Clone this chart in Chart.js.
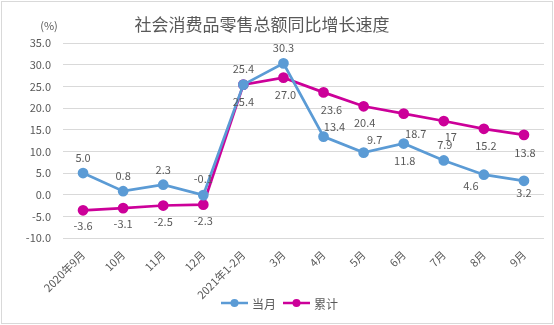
<!DOCTYPE html>
<html>
<head>
<meta charset="utf-8">
<script src="https://cdn.jsdelivr.net/npm/chart.js@4/dist/chart.umd.min.js"></script>
<style>
  html, body { margin: 0; padding: 0; background: #fff; }
  #wrap { width: 554px; height: 325px; position: relative; }
</style>
</head>
<body>
<div id="wrap"><canvas id="salesChart" width="554" height="325"></canvas></div>
<script>
var months = ["2020年9月", "10月", "11月", "12月", "2021年1-2月", "3月", "4月", "5月", "6月", "7月", "8月", "9月"];
var monthly = [5.0, 0.8, 2.3, -0.1, 25.4, 30.3, 13.4, 9.7, 11.8, 7.9, 4.6, 3.2];
var cumulative = [-3.6, -3.1, -2.5, -2.3, 25.4, 27.0, 23.6, 20.4, 18.7, 17, 15.2, 13.8];
var monthlyText = ["5.0", "0.8", "2.3", "-0.1", "25.4", "30.3", "13.4", "9.7", "11.8", "7.9", "4.6", "3.2"];
var cumulativeText = ["-3.6", "-3.1", "-2.5", "-2.3", "25.4", "27.0", "23.6", "20.4", "18.7", "17", "15.2", "13.8"];

// label offsets from the point, in px
var monthlyOffsets = [[0, -15], [0, -15], [0, -15], [0, -16], [0, -16], [0, -16], [11, -10], [11, -13], [1, 17], [1, -16], [-13, 11], [0, 12]];
var cumulativeOffsets = [[0, 16], [0, 16], [0, 16], [0, 16], [0, 17], [2, 17], [8, 17], [1, 17], [12, 20], [7, 16], [2, 17], [1, 18]];

var blue = '#5B9BD5';
var magenta = '#CC0099';
var grey = '#595959';
var fontFamily = '"Noto Sans CJK SC", "Noto Sans", sans-serif';

var extras = {
    id: 'extras',
    afterDraw: function (chart) {
        var ctx = chart.ctx;
        ctx.save();
        // frame
        ctx.strokeStyle = '#d9d9d9';
        ctx.lineWidth = 1;
        ctx.strokeRect(1.5, 1.5, 551, 322);

        // title
        ctx.fillStyle = grey;
        ctx.textAlign = 'center';
        ctx.textBaseline = 'middle';
        ctx.font = '17px ' + fontFamily;
        ctx.fillText('社会消费品零售总额同比增长速度', 262, 25);
        ctx.font = '11px ' + fontFamily;
        ctx.fillText('(%)', 49, 26);

        // data labels
        ctx.font = '11px ' + fontFamily;
        var texts = [monthlyText, cumulativeText];
        var offs = [monthlyOffsets, cumulativeOffsets];
        chart.data.datasets.forEach(function (ds, i) {
            chart.getDatasetMeta(i).data.forEach(function (pt, j) {
                ctx.fillText(texts[i][j], pt.x + offs[i][j][0], pt.y + offs[i][j][1]);
            });
        });

        // legend
        var items = [[blue, '当月', 221], [magenta, '累计', 283]];
        ctx.textAlign = 'left';
        ctx.font = '12px ' + fontFamily;
        items.forEach(function (it) {
            var x = it[2], y = 303;
            ctx.strokeStyle = it[0];
            ctx.lineWidth = 2.5;
            ctx.beginPath();
            ctx.moveTo(x, y);
            ctx.lineTo(x + 27, y);
            ctx.stroke();
            ctx.fillStyle = it[0];
            ctx.beginPath();
            ctx.arc(x + 13.5, y, 4, 0, Math.PI * 2);
            ctx.fill();
            ctx.fillStyle = grey;
            ctx.fillText(it[1], x + 31, y + 1);
        });
        ctx.restore();
    }
};

var ctx1 = document.getElementById('salesChart').getContext('2d');
new Chart(ctx1, {
    type: 'line',
    data: {
        labels: months,
        datasets: [{
            label: '当月',
            data: monthly,
            borderColor: blue,
            backgroundColor: blue,
            borderWidth: 2.75,
            pointRadius: 4,
            pointHoverRadius: 4,
            tension: 0
        }, {
            label: '累计',
            data: cumulative,
            borderColor: magenta,
            backgroundColor: magenta,
            borderWidth: 2.75,
            pointRadius: 4,
            pointHoverRadius: 4,
            tension: 0
        }]
    },
    options: {
        responsive: false,
        animation: false,
        layout: { padding: { left: 0, right: 10, top: 43, bottom: 0 } },
        plugins: {
            legend: { display: false },
            title: { display: false },
            tooltip: { enabled: false }
        },
        scales: {
            x: {
                offset: true,
                grid: { display: false },
                border: { display: false },
                ticks: {
                    color: grey,
                    font: { family: fontFamily, size: 11 },
                    minRotation: 45,
                    maxRotation: 45,
                    autoSkip: false,
                    padding: 2
                },
                afterFit: function (scale) { scale.height = 87; }
            },
            y: {
                min: -10,
                max: 35,
                grid: { color: '#d9d9d9', drawTicks: false },
                border: { display: false },
                ticks: {
                    stepSize: 5,
                    color: grey,
                    padding: 12,
                    font: { family: fontFamily, size: 11 },
                    callback: function (v) { return v.toFixed(1); }
                },
                afterFit: function (scale) { scale.width = 63; }
            }
        }
    },
    plugins: [extras]
});
</script>
</body>
</html>
